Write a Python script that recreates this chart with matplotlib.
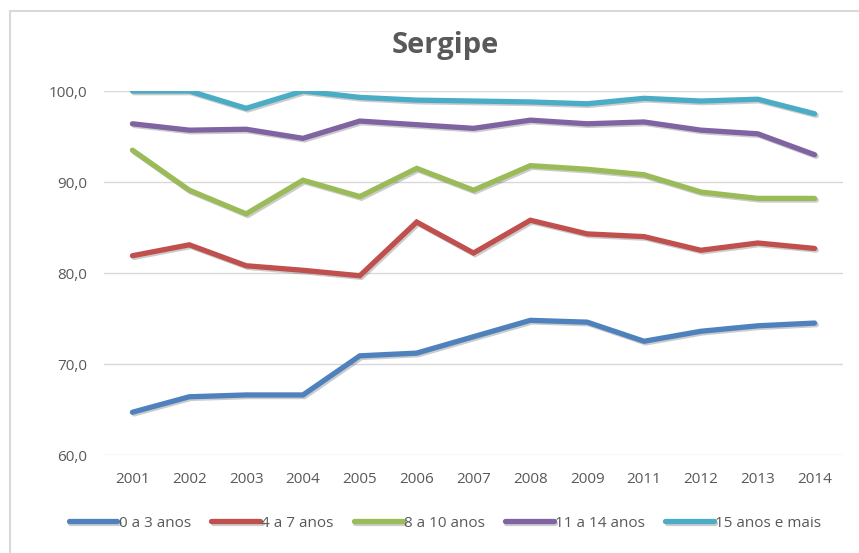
import matplotlib.pyplot as plt
import matplotlib.patheffects as pe
from matplotlib.patches import Rectangle

# dados
anos = ['2001', '2002', '2003', '2004', '2005', '2006', '2007', '2008', '2009',
        '2011', '2012', '2013', '2014']
s0_3 = [64.7, 66.4, 66.6, 66.6, 70.9, 71.2, 73.0, 74.8, 74.6, 72.5, 73.6, 74.2, 74.5]
s4_7 = [81.9, 83.1, 80.8, 80.3, 79.7, 85.6, 82.2, 85.8, 84.3, 84.0, 82.5, 83.3, 82.7]
s8_10 = [93.5, 89.1, 86.5, 90.2, 88.4, 91.5, 89.1, 91.8, 91.4, 90.8, 88.9, 88.2, 88.2]
s11_14 = [96.4, 95.7, 95.8, 94.8, 96.7, 96.3, 95.9, 96.8, 96.4, 96.6, 95.7, 95.3, 93.0]
s15 = [100.0, 100.0, 98.1, 100.0, 99.3, 99.0, 98.9, 98.8, 98.6, 99.2, 98.9, 99.1, 97.5]

series = [s0_3, s4_7, s8_10, s11_14, s15]
nomes = ['0 a 3 anos', '4 a 7 anos', '8 a 10 anos', '11 a 14 anos', '15 anos e mais']
cores = ['#4F81BD', '#C0504D', '#9BBB59', '#8064A2', '#4BACC6']

plt.rcParams['font.family'] = ['Open Sans', 'DejaVu Sans']
cinza = '#595959'

fig = plt.figure(figsize=(8.59, 5.53), dpi=100)
ax = fig.add_axes([0.1211, 0.1772, 0.8603, 0.6582])

x = list(range(len(anos)))
sombra = [pe.SimpleLineShadow(offset=(1.2, -1.2), alpha=0.2, shadow_color='k'), pe.Normal()]
for vals, nome, cor in zip(series, nomes, cores):
    ax.plot(x, vals, color=cor, lw=3.8, label=nome, solid_capstyle='round',
            solid_joinstyle='miter', path_effects=sombra)

ax.set_xlim(-0.5, len(anos) - 0.5)
ax.set_ylim(60, 100)
ax.set_yticks([60, 70, 80, 90, 100])
ax.set_yticklabels(['60,0', '70,0', '80,0', '90,0', '100,0'])
ax.set_xticks(x)
ax.set_xticklabels(anos)
ax.tick_params(axis='both', length=0, labelsize=11, colors=cinza)
ax.tick_params(axis='x', pad=12)
ax.tick_params(axis='y', pad=12)
ax.grid(axis='y', color='#D9D9D9', lw=1)
ax.set_axisbelow(True)
for s in ax.spines.values():
    s.set_visible(False)

fig.text(0.518, 0.918, 'Sergipe', ha='center', va='center', fontsize=21,
         fontweight='bold', color=cinza)

fig.legend(loc='center', bbox_to_anchor=(0.518, 0.054), ncol=5, frameon=False,
           fontsize=11, labelcolor=cinza, handlelength=3.2, handletextpad=0.1,
           columnspacing=1.3)

# moldura do gráfico
fig.patches.append(Rectangle((10 / 859, -0.01), 0.99, 0.99, transform=fig.transFigure,
                             fill=False, edgecolor='#D9D9D9', lw=1.5))

fig.savefig('out.png', dpi=100)
